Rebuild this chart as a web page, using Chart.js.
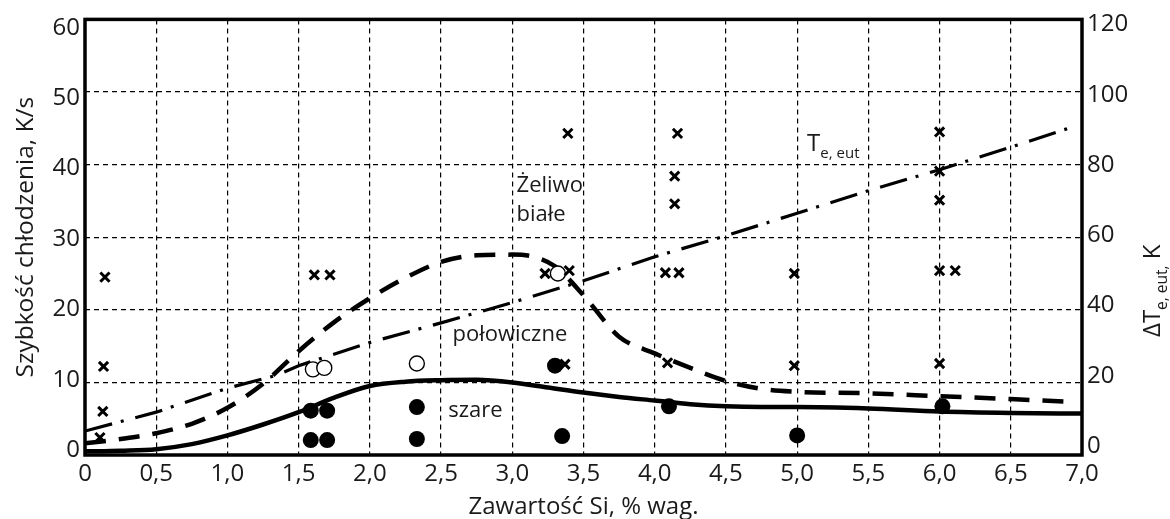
<!DOCTYPE html>
<html><head><meta charset="utf-8">
<script src="https://cdn.jsdelivr.net/npm/chart.js@4.4.0/dist/chart.umd.min.js"></script>
<style>html,body{margin:0;padding:0;background:#fff;}</style>
</head><body>
<canvas id="c" width="1170" height="519"></canvas>
<script>
// ---- data ----
const xTicks = [0,0.5,1,1.5,2,2.5,3,3.5,4,4.5,5,5.5,6,6.5,7];
const leftTicks = [0,10,20,30,40,50,60];
const rightTicks = [0,20,40,60,80,100,120];

// solid line (szare boundary), K/s
const xSolid = [0,0.25,0.5,0.75,1.0,1.25,1.5,1.75,2.0,2.25,2.5,2.75,3.0,3.25,3.5,3.75,4.0,4.25,4.5,4.75,5.0,5.5,6.0,6.5,7.0];
const ySolid = [0.5,0.6,0.8,1.5,2.7,4.2,5.9,7.9,9.5,10.1,10.3,10.35,10.0,9.3,8.6,8.0,7.5,7.0,6.7,6.6,6.6,6.4,6.0,5.8,5.7];

// dashed line (białe boundary), K/s
const xDash = [0,0.25,0.5,0.75,1.0,1.25,1.5,1.75,2.0,2.25,2.5,2.75,3.0,3.15,3.3,3.5,3.75,4.0,4.25,4.5,4.75,5.0,5.5,6.0,6.5,6.95];
const yDash = [1.6,2.2,3.0,4.3,6.5,9.8,14.3,18.3,21.6,24.4,26.6,27.5,27.6,27.3,26.0,22.0,16.3,14.0,12.0,10.2,9.1,8.7,8.5,8.1,7.7,7.3];

// dash-dot line T_e,eut, right axis (K)
const xDD = [0,0.5,1.0,1.35,1.5,2.0,2.5,3.0,3.5,4.0,4.5,5.0,5.5,6.0,6.5,6.95];
const yDD = [6.6,11.8,18.4,22.0,24.6,31.0,36.4,42.0,48.0,54.6,60.4,66.6,72.8,78.6,84.8,90.6];

// measurement markers
const crossX = [0.14,0.13,0.125,0.105,1.61,1.72,3.39,4.16,4.14,4.14,3.23,3.40,4.075,4.17,3.37,4.09,4.98,4.98,6.0,6.0,6.0,6.0,6.11,6.0];
const crossY = [24.5,12.2,6.0,2.4,24.8,24.8,44.3,44.3,38.4,34.6,25.0,25.4,25.1,25.1,12.5,12.7,25.0,12.3,44.5,39.1,35.1,25.4,25.4,12.6];
const openX = [1.60,1.68,2.33,3.32];
const openY = [11.8,12.0,12.6,25.0];
const fullX = [1.585,1.70,1.585,1.70,2.33,2.33,3.30,3.35,4.10,5.0,6.02];
const fullY = [6.1,6.1,2.05,2.05,6.6,2.2,12.3,2.6,6.7,2.7,6.7];

// region labels (data coords)
const regionText = ['Żeliwo','białe','połowiczne','szare'];
const regionX = [3.03,3.03,2.58,2.55];
const regionY = [36.2,32.2,15.7,5.2];

const pts = (xs, ys) => xs.map((x,i)=>({x, y: ys[i]}));
const FONT = '"Open Sans", "DejaVu Sans", sans-serif';

function drawRich(ctx, parts, x, y, size, subSize) {
  let cx = x;
  for (const p of parts) {
    ctx.font = (p.sub ? subSize : size) + 'px ' + FONT;
    ctx.fillText(p.t, cx, y + (p.sub ? size*0.28 : 0));
    cx += ctx.measureText(p.t).width;
  }
}

const deco = {
  id: 'deco',
  afterDraw(chart) {
    const {ctx, chartArea: a, scales} = chart;
    ctx.save();
    // frame
    ctx.strokeStyle = '#000'; ctx.lineWidth = 3.5; ctx.setLineDash([]);
    ctx.strokeRect(a.left, a.top, a.right - a.left, a.bottom - a.top);
    ctx.fillStyle = '#1a1a1a';
    ctx.textBaseline = 'alphabetic';
    // region labels
    ctx.font = '22px ' + FONT; ctx.textAlign = 'left';
    regionText.forEach((t,i)=>{
      ctx.fillText(t, scales.x.getPixelForValue(regionX[i]), scales.y.getPixelForValue(regionY[i]));
    });
    // T_e,eut label
    drawRich(ctx, [{t:'T'},{t:'e, eut', sub:true}], scales.x.getPixelForValue(5.07), scales.y.getPixelForValue(41.9), 24, 15);
    // x title
    ctx.font = '24px ' + FONT; ctx.textAlign = 'center';
    ctx.fillText('Zawartość Si, % wag.', (a.left + a.right)/2, 514);
    // left title
    ctx.save();
    ctx.translate(33, (a.top + a.bottom)/2); ctx.rotate(-Math.PI/2);
    ctx.textAlign = 'center';
    ctx.font = '24.5px ' + FONT;
    ctx.fillText('Szybkość chłodzenia, K/s', 0, 0);
    ctx.restore();
    // right title
    ctx.save();
    ctx.translate(1160, 337); ctx.rotate(-Math.PI/2);
    ctx.textAlign = 'left';
    drawRich(ctx, [{t:'ΔT'},{t:'e, eut,', sub:true},{t:' K'}], 0, 0, 24, 15.5);
    ctx.restore();
    ctx.restore();
  }
};

const gridDash = {display: false, dash: [5,4]};
const tickFont = {family: FONT, size: 24};

new Chart(document.getElementById('c'), {
  type: 'scatter',
  data: {
    datasets: [
      {data: pts(xSolid, ySolid), showLine: true, borderColor: '#000', borderWidth: 4.5, pointRadius: 0, cubicInterpolationMode: 'monotone', yAxisID: 'y', order: 3},
      {data: pts(xDash, yDash), showLine: true, borderColor: '#000', borderWidth: 4.5, borderDash: [21,13], pointRadius: 0, cubicInterpolationMode: 'monotone', yAxisID: 'y', order: 3},
      {data: pts(xDD, yDD), showLine: true, borderColor: '#000', borderWidth: 3.2, borderDash: [28,9,3,12], pointRadius: 0, tension: 0, yAxisID: 'y2', order: 3},
      {data: pts(crossX, crossY), pointStyle: 'crossRot', pointRadius: 6.5, borderColor: '#000', borderWidth: 3, yAxisID: 'y', order: 1},
      {data: pts(openX, openY), pointStyle: 'circle', pointRadius: 7.5, backgroundColor: '#fff', borderColor: '#000', borderWidth: 1.4, yAxisID: 'y', order: 1},
      {data: pts(fullX, fullY), pointStyle: 'circle', pointRadius: 8, backgroundColor: '#000', borderColor: '#000', borderWidth: 0, yAxisID: 'y', order: 1}
    ]
  },
  options: {
    responsive: false, animation: false,
    layout: {padding: {top: 19, left: 0, right: 0, bottom: 0}},
    plugins: {legend: {display: false}, tooltip: {enabled: false}},
    scales: {
      x: {
        type: 'linear', min: 0, max: 7,
        afterBuildTicks: s => { s.ticks = xTicks.map(v=>({value: v})); },
        afterFit: s => { s.height = 64; },
        grid: {color: '#000', lineWidth: 1.2, drawTicks: false},
        border: gridDash,
        ticks: {font: tickFont, color: '#1a1a1a', padding: 5, maxRotation: 0, autoSkip: false,
          callback: v => v === 0 ? '0' : v.toFixed(1).replace('.', ',')}
      },
      y: {
        position: 'left', min: 0, max: 60,
        afterBuildTicks: s => { s.ticks = leftTicks.map(v=>({value: v})); },
        afterFit: s => { s.width = 0; },
        grid: {color: '#000', lineWidth: 1.2, drawTicks: false},
        border: gridDash,
        ticks: {display: false}
      },
      yLab: {
        position: 'left', min: -0.71, max: 61.21,
        afterBuildTicks: s => { s.ticks = leftTicks.map(v=>({value: v})); },
        afterFit: s => { s.width = 85; },
        grid: {display: false, drawTicks: false},
        border: {display: false},
        ticks: {font: tickFont, color: '#1a1a1a', padding: 5}
      },
      y2: {
        position: 'right', min: 0, max: 120, display: false
      },
      y2Lab: {
        position: 'right', min: -2.56, max: 121.42,
        afterBuildTicks: s => { s.ticks = rightTicks.map(v=>({value: v})); },
        afterFit: s => { s.width = 88; },
        grid: {display: false, drawTicks: false},
        border: {display: false},
        ticks: {font: tickFont, color: '#1a1a1a', padding: 5}
      }
    }
  },
  plugins: [deco]
});
</script>
</body></html>
